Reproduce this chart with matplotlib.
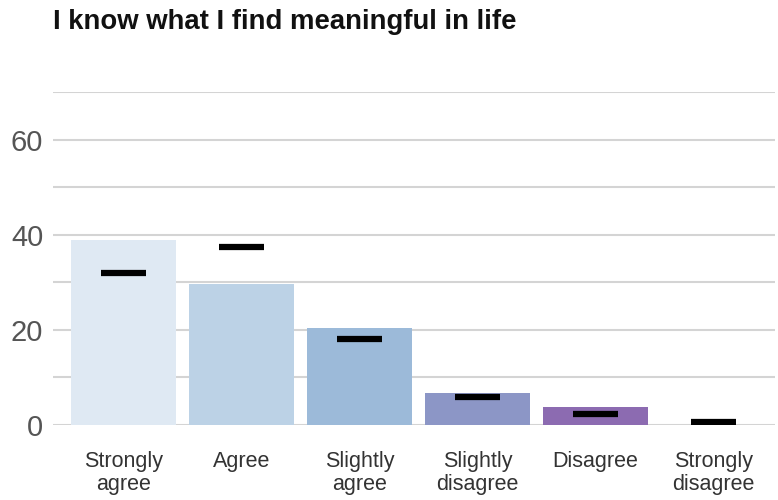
import matplotlib
matplotlib.use("Agg")
from matplotlib import pyplot as plt

# survey answers and percentages
categories = ["Strongly\nagree", "Agree", "Slightly\nagree", "Slightly\ndisagree",
              "Disagree", "Strongly\ndisagree"]
bar_values = [38.9, 29.7, 20.3, 6.8, 3.8, 0.0]
marker_values = [31.9, 37.4, 18.0, 5.8, 2.4, 0.7]
bar_colors = ["#dfe9f3", "#bcd2e6", "#9cbad9", "#8c96c6", "#8c6bb1", "#88419d"]
title = "I know what I find meaningful in life"

plt.rcParams["font.family"] = ["Liberation Sans", "DejaVu Sans"]

fig = plt.figure(figsize=(7.78, 5.0), dpi=100)
ax = fig.add_axes([53 / 778, 75 / 500, 722 / 778, 333 / 500])

x = list(range(len(categories)))
ax.bar(x, bar_values, width=0.89, color=bar_colors, zorder=2)
ax.hlines(marker_values, [i - 0.19 for i in x], [i + 0.19 for i in x],
          colors="black", linewidth=4.5, zorder=3)

ax.set_xlim(-0.6, 5.52)
ax.set_ylim(0, 70)
ax.set_yticks(range(0, 71, 10))
ax.set_yticklabels([str(v) if v % 20 == 0 else "" for v in range(0, 71, 10)])
ax.yaxis.grid(True, color="#d4d4d4", linewidth=1.5, zorder=0)
ax.set_axisbelow(True)
for s in ax.spines.values():
    s.set_visible(False)
ax.tick_params(axis="y", length=0, pad=7, labelsize=21, labelcolor="#555555")
ax.set_xticks(x)
ax.set_xticklabels(categories, fontsize=15.5, color="#333333", linespacing=1.12)
ax.tick_params(axis="x", length=0, pad=19)

fig.text(53 / 778, 1 - 22 / 500, title, fontsize=19.8, fontweight="bold",
         color="#111111", va="center", ha="left")

fig.savefig("out.png", dpi=100)
